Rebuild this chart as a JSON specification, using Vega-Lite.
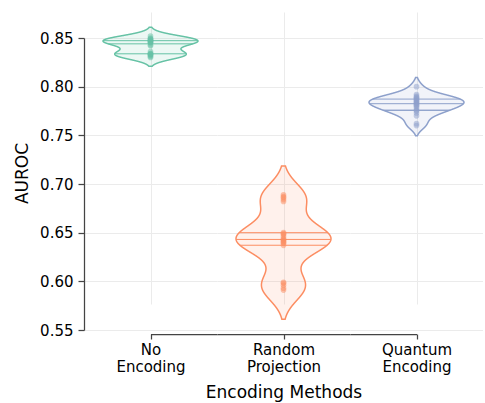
{
  "$schema": "https://vega.github.io/schema/vega-lite/v6.json",
  "background": "white",
  "padding": {"left": 13, "top": 12, "right": 0, "bottom": 3},
  "config": {
    "font": "DejaVu Sans",
    "view": {"stroke": null},
    "axis": {
      "labelFont": "DejaVu Sans", "titleFont": "DejaVu Sans",
      "labelColor": "#000000", "titleColor": "#000000",
      "labelFontSize": 15, "titleFontSize": 17, "titleFontWeight": "normal",
      "domainColor": "#444444", "tickColor": "#444444",
      "domainWidth": 1.25, "tickWidth": 1.25,
      "gridColor": "#ebebeb", "gridWidth": 1
    }
  },
  "datasets": {
    "runs": [
      {"method": "No Encoding", "auroc": 0.830},
      {"method": "No Encoding", "auroc": 0.831},
      {"method": "No Encoding", "auroc": 0.832},
      {"method": "No Encoding", "auroc": 0.833},
      {"method": "No Encoding", "auroc": 0.833},
      {"method": "No Encoding", "auroc": 0.834},
      {"method": "No Encoding", "auroc": 0.834},
      {"method": "No Encoding", "auroc": 0.836},
      {"method": "No Encoding", "auroc": 0.842},
      {"method": "No Encoding", "auroc": 0.843},
      {"method": "No Encoding", "auroc": 0.845},
      {"method": "No Encoding", "auroc": 0.846},
      {"method": "No Encoding", "auroc": 0.846},
      {"method": "No Encoding", "auroc": 0.847},
      {"method": "No Encoding", "auroc": 0.847},
      {"method": "No Encoding", "auroc": 0.848},
      {"method": "No Encoding", "auroc": 0.849},
      {"method": "No Encoding", "auroc": 0.849},
      {"method": "No Encoding", "auroc": 0.850},
      {"method": "No Encoding", "auroc": 0.852},
      {"method": "Random Projection", "auroc": 0.689},
      {"method": "Random Projection", "auroc": 0.687},
      {"method": "Random Projection", "auroc": 0.686},
      {"method": "Random Projection", "auroc": 0.684},
      {"method": "Random Projection", "auroc": 0.682},
      {"method": "Random Projection", "auroc": 0.650},
      {"method": "Random Projection", "auroc": 0.649},
      {"method": "Random Projection", "auroc": 0.648},
      {"method": "Random Projection", "auroc": 0.646},
      {"method": "Random Projection", "auroc": 0.644},
      {"method": "Random Projection", "auroc": 0.643},
      {"method": "Random Projection", "auroc": 0.642},
      {"method": "Random Projection", "auroc": 0.641},
      {"method": "Random Projection", "auroc": 0.640},
      {"method": "Random Projection", "auroc": 0.639},
      {"method": "Random Projection", "auroc": 0.637},
      {"method": "Random Projection", "auroc": 0.599},
      {"method": "Random Projection", "auroc": 0.598},
      {"method": "Random Projection", "auroc": 0.596},
      {"method": "Random Projection", "auroc": 0.593},
      {"method": "Random Projection", "auroc": 0.591},
      {"method": "Quantum Encoding", "auroc": 0.800},
      {"method": "Quantum Encoding", "auroc": 0.792},
      {"method": "Quantum Encoding", "auroc": 0.790},
      {"method": "Quantum Encoding", "auroc": 0.789},
      {"method": "Quantum Encoding", "auroc": 0.788},
      {"method": "Quantum Encoding", "auroc": 0.787},
      {"method": "Quantum Encoding", "auroc": 0.786},
      {"method": "Quantum Encoding", "auroc": 0.785},
      {"method": "Quantum Encoding", "auroc": 0.784},
      {"method": "Quantum Encoding", "auroc": 0.783},
      {"method": "Quantum Encoding", "auroc": 0.782},
      {"method": "Quantum Encoding", "auroc": 0.781},
      {"method": "Quantum Encoding", "auroc": 0.780},
      {"method": "Quantum Encoding", "auroc": 0.778},
      {"method": "Quantum Encoding", "auroc": 0.776},
      {"method": "Quantum Encoding", "auroc": 0.775},
      {"method": "Quantum Encoding", "auroc": 0.773},
      {"method": "Quantum Encoding", "auroc": 0.770},
      {"method": "Quantum Encoding", "auroc": 0.762},
      {"method": "Quantum Encoding", "auroc": 0.760}
    ]
  },
  "spacing": 0,
  "bounds": "flush",
  "resolve": {"scale": {"x": "independent", "y": "independent"}},
  "hconcat": [
    {
      "width": 133, "height": 318,
      "data": {"name": "runs"},
      "transform": [{"filter": {"field": "method", "equal": "No Encoding"}}],
      "encoding": {
        "y": {"field": "auroc", "type": "quantitative",
          "scale": {"domain": [0.55, 0.85], "range": [318, 26], "nice": false, "zero": false},
          "axis": {"title": "AUROC", "values": [0.55, 0.6, 0.65, 0.7, 0.75, 0.8, 0.85], "format": ".2f", "grid": true, "tickSize": 6, "labelPadding": 5, "titlePadding": 8, "titleY": 161}}
      },
      "layer": [
        {
          "transform": [
            {"joinaggregate": [{"op": "q1", "field": "auroc", "as": "q1"}, {"op": "median", "field": "auroc", "as": "med"}, {"op": "q3", "field": "auroc", "as": "q3"}]},
            {"density": "auroc", "groupby": ["q1", "med", "q3"], "bandwidth": 0.0045, "extent": [0.821, 0.861], "steps": 1000, "as": ["auroc", "density"]},
            {"stack": "density", "groupby": ["auroc"], "offset": "center", "as": ["d0", "d1"]}
          ],
          "layer": [
            {"mark": {"type": "area", "orient": "horizontal", "color": "#66c2a5", "fillOpacity": 0.12, "stroke": "#66c2a5", "strokeOpacity": 1, "strokeWidth": 1.5},
             "encoding": {"x": {"field": "d0", "type": "quantitative", "scale": {"padding": 19, "nice": false, "zero": true}, "axis": null}, "x2": {"field": "d1"}}},
            {"mark": {"type": "rule", "color": "#66c2a5", "strokeWidth": 1},
             "encoding": {"x": {"field": "d0", "type": "quantitative"}, "x2": {"field": "d1"},
               "opacity": {"condition": {"test": "abs(datum.auroc - datum.q1) <= 0.0000201 || abs(datum.auroc - datum.med) <= 0.0000201 || abs(datum.auroc - datum.q3) <= 0.0000201", "value": 1}, "value": 0}}}
          ]
        },
        {
          "mark": {"type": "circle", "color": "#66c2a5", "opacity": 0.5, "size": 32},
          "encoding": {"x": {"field": "method", "type": "nominal",
            "scale": {"type": "point", "range": [66.5, 133], "padding": 0, "align": 0},
            "axis": {"orient": "bottom", "title": null, "labelAngle": 0, "labelExpr": "split(datum.label, ' ')", "offset": 4, "tickSize": 5, "labelPadding": 3, "labelLineHeight": 17, "grid": true}}}
        }
      ],
      "resolve": {"scale": {"x": "independent"}, "axis": {"x": "independent"}}
    },
    {
      "width": 133, "height": 318,
      "data": {"name": "runs"},
      "transform": [{"filter": {"field": "method", "equal": "Random Projection"}}],
      "encoding": {
        "y": {"field": "auroc", "type": "quantitative",
          "scale": {"domain": [0.55, 0.85], "range": [318, 26], "nice": false, "zero": false},
          "axis": {"title": null, "values": [0.55, 0.6, 0.65, 0.7, 0.75, 0.8, 0.85], "labels": false, "ticks": false, "domain": false, "grid": true}}
      },
      "layer": [
        {
          "transform": [
            {"joinaggregate": [{"op": "q1", "field": "auroc", "as": "q1"}, {"op": "median", "field": "auroc", "as": "med"}, {"op": "q3", "field": "auroc", "as": "q3"}]},
            {"density": "auroc", "groupby": ["q1", "med", "q3"], "bandwidth": 0.0148, "extent": [0.561, 0.7185], "steps": 1000, "as": ["auroc", "density"]},
            {"stack": "density", "groupby": ["auroc"], "offset": "center", "as": ["d0", "d1"]}
          ],
          "layer": [
            {"mark": {"type": "area", "orient": "horizontal", "color": "#fc8d62", "fillOpacity": 0.12, "stroke": "#fc8d62", "strokeOpacity": 1, "strokeWidth": 1.5},
             "encoding": {"x": {"field": "d0", "type": "quantitative", "scale": {"padding": 19, "nice": false, "zero": true}, "axis": null}, "x2": {"field": "d1"}}},
            {"mark": {"type": "rule", "color": "#fc8d62", "strokeWidth": 1},
             "encoding": {"x": {"field": "d0", "type": "quantitative"}, "x2": {"field": "d1"},
               "opacity": {"condition": {"test": "abs(datum.auroc - datum.q1) <= 0.000079 || abs(datum.auroc - datum.med) <= 0.000079 || abs(datum.auroc - datum.q3) <= 0.000079", "value": 1}, "value": 0}}}
          ]
        },
        {
          "mark": {"type": "circle", "color": "#fc8d62", "opacity": 0.5, "size": 32},
          "encoding": {"x": {"field": "method", "type": "nominal",
            "scale": {"type": "point", "range": [0, 133], "padding": 0, "align": 0.5},
            "axis": {"orient": "bottom", "title": "Encoding Methods", "labelAngle": 0, "labelExpr": "split(datum.label, ' ')", "offset": 4, "tickSize": 5, "labelPadding": 3, "labelLineHeight": 17, "titlePadding": 10, "grid": true}}}
        }
      ],
      "resolve": {"scale": {"x": "independent"}, "axis": {"x": "independent"}}
    },
    {
      "width": 133, "height": 318,
      "data": {"name": "runs"},
      "transform": [{"filter": {"field": "method", "equal": "Quantum Encoding"}}],
      "encoding": {
        "y": {"field": "auroc", "type": "quantitative",
          "scale": {"domain": [0.55, 0.85], "range": [318, 26], "nice": false, "zero": false},
          "axis": {"title": null, "values": [0.55, 0.6, 0.65, 0.7, 0.75, 0.8, 0.85], "labels": false, "ticks": false, "domain": false, "grid": true}}
      },
      "layer": [
        {
          "transform": [
            {"joinaggregate": [{"op": "q1", "field": "auroc", "as": "q1"}, {"op": "median", "field": "auroc", "as": "med"}, {"op": "q3", "field": "auroc", "as": "q3"}]},
            {"density": "auroc", "groupby": ["q1", "med", "q3"], "bandwidth": 0.0053, "extent": [0.7495, 0.8095], "steps": 1000, "as": ["auroc", "density"]},
            {"stack": "density", "groupby": ["auroc"], "offset": "center", "as": ["d0", "d1"]}
          ],
          "layer": [
            {"mark": {"type": "area", "orient": "horizontal", "color": "#8da0cb", "fillOpacity": 0.12, "stroke": "#8da0cb", "strokeOpacity": 1, "strokeWidth": 1.5},
             "encoding": {"x": {"field": "d0", "type": "quantitative", "scale": {"padding": 19, "nice": false, "zero": true}, "axis": null}, "x2": {"field": "d1"}}},
            {"mark": {"type": "rule", "color": "#8da0cb", "strokeWidth": 1},
             "encoding": {"x": {"field": "d0", "type": "quantitative"}, "x2": {"field": "d1"},
               "opacity": {"condition": {"test": "abs(datum.auroc - datum.q1) <= 0.0000301 || abs(datum.auroc - datum.med) <= 0.0000301 || abs(datum.auroc - datum.q3) <= 0.0000301", "value": 1}, "value": 0}}}
          ]
        },
        {
          "mark": {"type": "circle", "color": "#8da0cb", "opacity": 0.5, "size": 32},
          "encoding": {"x": {"field": "method", "type": "nominal",
            "scale": {"type": "point", "range": [0, 66.5], "padding": 0, "align": 1},
            "axis": {"orient": "bottom", "title": null, "labelAngle": 0, "labelExpr": "split(datum.label, ' ')", "offset": 4, "tickSize": 5, "labelPadding": 3, "labelLineHeight": 17, "grid": true}}}
        }
      ],
      "resolve": {"scale": {"x": "independent"}, "axis": {"x": "independent"}}
    }
  ]
}
